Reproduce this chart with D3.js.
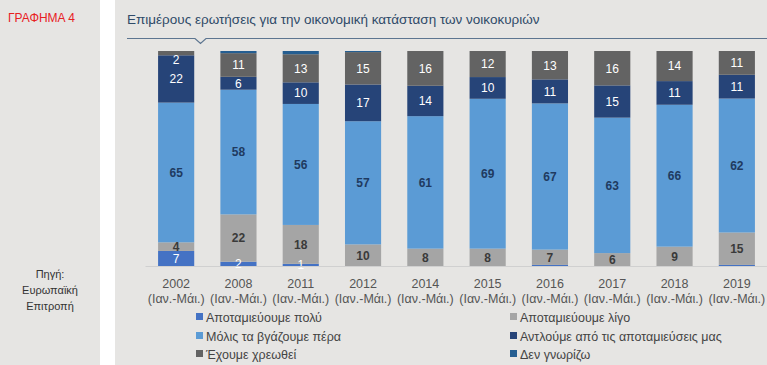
<!DOCTYPE html>
<html><head><meta charset="utf-8">
<script src="https://cdn.jsdelivr.net/npm/d3@7"></script>
<style>
html,body{margin:0;padding:0;background:#fff;}
svg{display:block;font-family:"Liberation Sans",Arial,sans-serif;}
</style></head>
<body>
<svg id="c" width="767" height="365"></svg>
<script>
const years = ["2002","2008","2011","2012","2014","2015","2016","2017","2018","2019"];
const period = "(Ιαν.-Μάι.)";
const seriesNames = ["Αποταμιεύουμε πολύ","Αποταμιεύουμε λίγο","Μόλις τα βγάζουμε πέρα","Αντλούμε  από τις αποταμιεύσεις μας","Έχουμε χρεωθεί","Δεν  γνωρίζω"];
const saveMuch   = [7, 2, 1, 0, 0, 0, 0.5, 0, 0, 0.5];
const saveLittle = [4, 22, 18, 10, 8, 8, 7, 6, 9, 15];
const makeEnds   = [65, 58, 56, 57, 61, 69, 67, 63, 66, 62];
const drawSaving = [22, 6, 10, 17, 14, 10, 11, 15, 11, 11];
const inDebt     = [2, 11, 13, 15, 16, 12, 13, 16, 14, 11];
const dontKnow   = [0, 1, 1.5, 0.5, 0, 0, 0, 0, 0, 0];
const colors = ["#4472c4","#a5a5a5","#5b9bd5","#264478","#636363","#255e91"];
const labelColors = ["#ffffff","#3a3a3a","#1f3a60","#ffffff","#ffffff",null];
const labelWeights = ["normal","bold","bold","normal","normal","normal"];

const seriesVals = [saveMuch, saveLittle, makeEnds, drawSaving, inDebt, dontKnow];
const rows = years.map((y,i)=>{
  const r = {year:y};
  seriesVals.forEach((s,k)=>{ r["s"+k]=s[i]; });
  return r;
});
const keys = seriesVals.map((s,k)=>"s"+k);
const stacked = d3.stack().keys(keys).offset(d3.stackOffsetExpand)(rows);

const svg = d3.select("#c");
svg.append("rect").attr("x",0).attr("y",0).attr("width",100).attr("height",365).attr("fill","#e6e5e3");
svg.append("rect").attr("x",115).attr("y",0).attr("width",652).attr("height",365).attr("fill","#e6e5e3");

svg.append("text").attr("x",8).attr("y",22).attr("font-size",12).attr("fill","#e8201f").text("ΓΡΑΦΗΜΑ 4");
const src = svg.append("text").attr("font-size",11).attr("fill","#333").attr("text-anchor","middle");
["Πηγή:","Ευρωπαϊκή","Επιτροπή"].forEach((t,i)=>src.append("tspan").attr("x",50).attr("y",278+i*16).text(t));

svg.append("text").attr("x",127).attr("y",24).attr("font-size",13.5).attr("fill","#2f4a68")
  .text("Επιμέρους ερωτήσεις για την οικονομική κατάσταση των νοικοκυριών");
svg.append("path").attr("d","M127,38.5 H195 L200.5,43.5 L206,38.5 H767")
  .attr("fill","none").attr("stroke","#5d7590").attr("stroke-width",1.2);

const x = d3.scaleBand().domain(years).range([145,768]).paddingInner(0.42).paddingOuter(0.21);
const y = d3.scaleLinear().domain([0,1]).range([266,51]);

const g = svg.append("g");
stacked.forEach((layer,k)=>{
  g.selectAll(null).data(layer).enter().append("rect")
    .attr("x",d=>x(d.data.year)).attr("width",x.bandwidth())
    .attr("y",d=>y(d[1])).attr("height",d=>Math.max(0,y(d[0])-y(d[1])))
    .attr("fill",colors[k]);
});
stacked.forEach((layer,k)=>{
  if(!labelColors[k]) return;
  layer.forEach((d,i)=>{
    const v = seriesVals[k][i];
    if(v < 1) return;
    let cy = (y(d[0])+y(d[1]))/2;
    cy = Math.max(cy, 60);
    g.append("text").attr("x",x(d.data.year)+x.bandwidth()/2).attr("y",cy)
      .attr("dy","0.36em").attr("text-anchor","middle").attr("font-size",12)
      .attr("font-weight",labelWeights[k]).attr("fill",labelColors[k]).text(v);
  });
});

const ax = svg.append("g").attr("transform","translate(0,266)")
  .call(d3.axisBottom(x).tickSize(0).tickPadding(0).tickFormat(""));
ax.select(".domain").attr("stroke","#d0d0d0");
ax.selectAll(".tick").each(function(d){
  const t = d3.select(this).append("text").attr("fill","#555").attr("font-size",12.5)
    .attr("text-anchor","middle").attr("font-family","Liberation Sans, Arial, sans-serif");
  t.append("tspan").attr("x",0).attr("y",22).text(d);
  t.append("tspan").attr("x",0).attr("y",37).text(period);
});

const legPos = [[196,317],[510,317],[196,336],[510,336],[196,354],[510,354]];
seriesNames.forEach((name,k)=>{
  const [lx,ly] = legPos[k];
  svg.append("rect").attr("x",lx).attr("y",ly-4).attr("width",7).attr("height",7).attr("fill",colors[k]);
  svg.append("text").attr("x",lx+10).attr("y",ly).attr("dy","0.36em").attr("font-size",12.5)
    .attr("fill","#444").text(name);
});
</script>
</body></html>
